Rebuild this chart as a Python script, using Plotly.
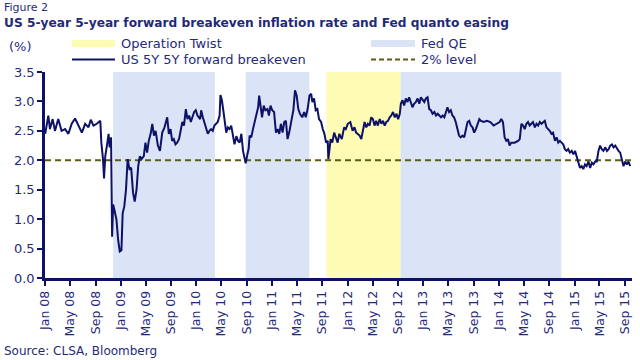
import plotly.graph_objects as go

# ---------------- data ----------------
dates_2008_09 = ["2008-01-02","2008-01-17","2008-01-25","2008-02-07","2008-02-18","2008-03-05","2008-03-21","2008-04-07","2008-04-23","2008-05-09",
                 "2008-05-25","2008-06-10","2008-06-27","2008-07-13","2008-07-29","2008-08-09","2008-08-22","2008-09-07","2008-09-24","2008-09-29",
                 "2008-10-07","2008-10-12","2008-10-18","2008-10-26","2008-11-03","2008-11-08","2008-11-15","2008-11-20","2008-11-25","2008-12-01",
                 "2008-12-11","2008-12-19","2008-12-27","2009-01-04","2009-01-10","2009-01-18","2009-01-26","2009-02-03","2009-02-12","2009-02-20",
                 "2009-03-01","2009-03-09","2009-03-18","2009-03-26","2009-04-03","2009-04-11","2009-04-22","2009-04-30","2009-05-08","2009-05-16",
                 "2009-05-25","2009-06-02","2009-06-10","2009-06-18","2009-06-29","2009-07-09","2009-07-20","2009-07-31","2009-08-08","2009-08-13",
                 "2009-08-21","2009-08-29","2009-09-06","2009-09-14","2009-09-22","2009-09-30","2009-10-09","2009-10-17","2009-10-25","2009-11-02",
                 "2009-11-11","2009-11-19","2009-11-27","2009-12-05","2009-12-13","2009-12-21","2009-12-29","2010-01-06","2010-01-19"]
be_2008_09 = [2.45,2.76,2.53,2.70,2.50,2.70,2.50,2.53,2.45,2.62,
              2.71,2.59,2.47,2.62,2.56,2.69,2.59,2.62,2.67,2.30,
              2.02,1.69,2.07,2.25,2.45,2.22,2.39,0.70,1.25,1.16,
              0.99,0.65,0.45,0.47,1.10,1.22,1.50,2.02,1.85,1.87,
              1.45,1.30,1.50,1.90,2.07,2.02,2.07,2.30,2.13,2.33,
              2.45,2.62,2.42,2.50,2.25,2.16,2.47,2.56,2.67,2.73,
              2.45,2.53,2.33,2.36,2.27,2.30,2.36,2.53,2.65,2.59,
              2.87,2.70,2.76,2.65,2.73,2.82,2.85,2.76,2.70]

dates_2010_11 = ["2010-01-24","2010-02-01","2010-02-09","2010-02-17","2010-02-25","2010-03-05","2010-03-13","2010-03-21","2010-03-29","2010-04-14",
                 "2010-04-23","2010-04-27","2010-05-04","2010-05-12","2010-05-20","2010-05-25","2010-06-02","2010-06-10","2010-06-18","2010-06-26",
                 "2010-07-04","2010-07-13","2010-07-21","2010-07-29","2010-08-06","2010-08-14","2010-08-22","2010-08-27","2010-09-04","2010-09-10",
                 "2010-09-15","2010-09-23","2010-10-01","2010-10-10","2010-10-18","2010-10-26","2010-10-31","2010-11-06","2010-11-14","2010-11-22",
                 "2010-11-30","2010-12-10","2010-12-17","2010-12-25","2011-01-02","2011-01-11","2011-01-20","2011-01-28","2011-02-05","2011-02-13",
                 "2011-02-21","2011-03-01","2011-03-09","2011-03-17","2011-03-25","2011-04-06","2011-04-14","2011-04-22","2011-04-30","2011-05-08",
                 "2011-05-16","2011-05-27","2011-06-05","2011-06-13","2011-06-22","2011-07-01","2011-07-09","2011-07-15","2011-07-23","2011-07-31",
                 "2011-08-08","2011-08-16","2011-08-26","2011-09-03","2011-09-11","2011-09-19","2011-09-27","2011-09-30","2011-10-05","2011-10-11",
                 "2011-10-19","2011-10-28","2011-11-05","2011-11-14","2011-11-22","2011-12-04","2011-12-15","2011-12-23","2012-01-02","2012-01-14",
                 "2012-01-25","2012-02-03"]
be_2010_11 = [2.85,2.73,2.62,2.53,2.45,2.50,2.53,2.50,2.59,2.65,
              2.76,3.11,3.02,2.82,2.65,2.47,2.56,2.53,2.59,2.39,
              2.27,2.41,2.33,2.30,2.45,2.16,2.02,1.95,2.10,2.19,
              2.42,2.39,2.53,2.67,2.82,2.90,3.10,2.96,2.73,2.93,
              2.85,2.87,2.76,2.93,2.85,2.82,2.47,2.53,2.45,2.62,
              2.47,2.65,2.67,2.36,2.47,2.70,2.85,3.19,3.10,2.87,
              2.79,2.73,2.82,2.73,2.87,3.10,3.13,2.99,3.05,2.85,
              2.87,2.70,2.65,2.53,2.45,2.30,2.33,2.02,2.16,2.36,
              2.30,2.47,2.39,2.30,2.45,2.36,2.56,2.53,2.62,2.65,
              2.50,2.56]

dates_2012_13 = ["2012-02-11","2012-02-19","2012-02-28","2012-03-07","2012-03-15","2012-03-23","2012-03-31","2012-04-08","2012-04-16","2012-04-24",
                 "2012-05-02","2012-05-10","2012-05-18","2012-05-26","2012-06-04","2012-06-12","2012-06-20","2012-06-28","2012-07-06","2012-07-14",
                 "2012-07-22","2012-07-30","2012-08-07","2012-08-16","2012-08-24","2012-09-01","2012-09-09","2012-09-14","2012-09-22","2012-09-30",
                 "2012-10-08","2012-10-16","2012-10-24","2012-11-01","2012-11-09","2012-11-17","2012-11-26","2012-12-04","2012-12-12","2012-12-20",
                 "2012-12-28","2013-01-05","2013-01-13","2013-01-21","2013-01-29","2013-02-06","2013-02-14","2013-02-23","2013-03-03","2013-03-11",
                 "2013-03-19","2013-03-27","2013-04-04","2013-04-12","2013-04-20","2013-04-27","2013-05-05","2013-05-13","2013-05-21","2013-05-29",
                 "2013-06-06","2013-06-14","2013-06-22","2013-06-30","2013-07-09","2013-07-17","2013-07-25","2013-08-02","2013-08-10","2013-08-18",
                 "2013-08-26","2013-09-03","2013-09-11","2013-09-19","2013-09-28","2013-10-06","2013-10-19","2013-11-04","2013-11-20","2013-12-06",
                 "2013-12-22","2014-01-04"]
be_2012_13 = [2.47,2.45,2.42,2.36,2.50,2.65,2.56,2.62,2.59,2.73,
              2.70,2.59,2.67,2.59,2.70,2.62,2.67,2.59,2.65,2.67,
              2.73,2.76,2.82,2.73,2.79,2.70,2.79,2.96,3.02,2.93,
              3.05,2.99,3.07,2.96,2.90,2.96,2.99,3.05,2.96,3.07,
              3.02,2.99,3.05,3.07,2.87,2.85,2.79,2.82,2.76,2.79,
              2.76,2.73,2.76,2.73,2.82,2.90,2.82,2.85,2.76,2.73,
              2.65,2.53,2.42,2.39,2.42,2.39,2.53,2.65,2.67,2.59,
              2.56,2.47,2.53,2.62,2.70,2.67,2.65,2.67,2.65,2.59,
              2.62,2.65]

dates_2014_15 = ["2014-01-12","2014-01-20","2014-01-28","2014-02-05","2014-02-13","2014-02-21","2014-03-01","2014-03-17","2014-04-03","2014-04-11",
                 "2014-04-19","2014-04-27","2014-05-05","2014-05-13","2014-05-21","2014-05-29","2014-06-06","2014-06-14","2014-06-23","2014-07-01",
                 "2014-07-09","2014-07-17","2014-07-25","2014-08-02","2014-08-10","2014-08-18","2014-08-26","2014-09-03","2014-09-11","2014-09-19",
                 "2014-09-28","2014-10-06","2014-10-14","2014-10-22","2014-10-30","2014-11-07","2014-11-15","2014-11-23","2014-12-01","2014-12-09",
                 "2014-12-18","2014-12-26","2015-01-03","2015-01-11","2015-01-19","2015-01-27","2015-02-04","2015-02-12","2015-02-20","2015-02-28",
                 "2015-03-09","2015-03-17","2015-03-25","2015-04-02","2015-04-10","2015-04-18","2015-04-26","2015-05-04","2015-05-12","2015-05-20",
                 "2015-05-29","2015-06-06","2015-06-14","2015-06-22","2015-06-30","2015-07-08","2015-07-16","2015-07-24","2015-08-01","2015-08-09",
                 "2015-08-17","2015-08-25","2015-09-02","2015-09-10","2015-09-18","2015-09-26"]
be_2014_15 = [2.70,2.65,2.39,2.33,2.36,2.25,2.30,2.30,2.33,2.36,
              2.62,2.59,2.53,2.62,2.65,2.59,2.62,2.65,2.56,2.62,
              2.59,2.65,2.62,2.65,2.67,2.56,2.53,2.50,2.45,2.47,
              2.33,2.39,2.30,2.33,2.30,2.27,2.19,2.16,2.19,2.13,
              2.16,2.10,2.16,2.05,1.96,1.87,1.90,1.85,1.93,1.90,
              1.98,1.87,1.96,1.93,1.98,1.98,2.16,2.25,2.19,2.16,
              2.22,2.16,2.19,2.25,2.27,2.22,2.25,2.19,2.16,2.13,
              2.02,1.90,1.98,1.93,1.98,1.90]

event_names = ["Fed QE", "Fed QE", "Operation Twist", "Fed QE"]
event_start = ["2008-11-25", "2010-08-27", "2011-09-21", "2012-09-13"]
event_end = ["2010-03-31", "2011-06-30", "2012-09-13", "2014-10-29"]

level_value = 2.0
x_start = "2008-01-01"
x_end = "2015-10-05"
y_min, y_max, y_step = 0.0, 3.5, 0.5

dates = dates_2008_09 + dates_2010_11 + dates_2012_13 + dates_2014_15
breakeven = be_2008_09 + be_2010_11 + be_2012_13 + be_2014_15

# ---------------- style ----------------
W, H = 640, 360
L, R, T, B = 45, 8, 72, 82
FONT = "DejaVu Sans"
TXT = "#1f2a7a"
NAVY = "#0d1266"
OLIVE = "#5e5e12"
QE_COL = "#dbe4f6"
OT_COL = "#fdfbb4"
event_colors = {"Fed QE": QE_COL, "Operation Twist": OT_COL}


def px(X):
    return (X - L) / (W - L - R)


def py(Y):
    return (H - B - Y) / (H - T - B)


fig = go.Figure()

for name, s, e in zip(event_names, event_start, event_end):
    fig.add_shape(type="rect", xref="x", yref="y", x0=s, x1=e, y0=y_min, y1=y_max,
                  fillcolor=event_colors[name], line=dict(width=0), layer="below")

fig.add_trace(go.Scatter(x=[x_start, x_end], y=[level_value, level_value], mode="lines",
                         line=dict(color=OLIVE, width=2, dash="6px,4px"), hoverinfo="skip",
                         name="2% level"))
fig.add_trace(go.Scatter(x=dates, y=breakeven, mode="lines",
                         line=dict(color=NAVY, width=2), name="US 5Y 5Y forward breakeven"))

# manual legend
fig.add_shape(type="rect", xref="paper", yref="paper", x0=px(72), x1=px(115), y0=py(47), y1=py(40),
              fillcolor=OT_COL, line=dict(width=0))
fig.add_shape(type="rect", xref="paper", yref="paper", x0=px(371), x1=px(415), y0=py(47), y1=py(40),
              fillcolor=QE_COL, line=dict(width=0))
fig.add_shape(type="line", xref="paper", yref="paper", x0=px(72), x1=px(115), y0=py(59.5), y1=py(59.5),
              line=dict(color=NAVY, width=2))
fig.add_shape(type="line", xref="paper", yref="paper", x0=px(371), x1=px(415), y0=py(59.5), y1=py(59.5),
              line=dict(color=OLIVE, width=2, dash="5px,3px"))

texts = [
    ("Figure 2", 2, 8, 11, False),
    ("US 5-year 5-year forward breakeven inflation rate and Fed quanto easing", 2, 23, 12.2, True),
    ("(%)", 7, 46, 13, False),
    ("Operation Twist", 119, 43, 13, False),
    ("Fed QE", 419, 43, 13, False),
    ("US 5Y 5Y forward breakeven", 119, 59.5, 13, False),
    ("2% level", 419, 59.5, 13, False),
    ("Source: CLSA, Bloomberg", 2, 351, 12, False),
]
for t, X, Y, sz, bold in texts:
    fig.add_annotation(text=("<b>%s</b>" % t) if bold else t, xref="paper", yref="paper",
                       x=px(X), y=py(Y), xanchor="left", yanchor="middle", showarrow=False,
                       font=dict(family=FONT, size=sz, color=TXT))

fig.update_layout(
    width=W, height=H, margin=dict(l=L, r=R, t=T, b=B, autoexpand=False),
    paper_bgcolor="white", plot_bgcolor="white", showlegend=False,
    font=dict(family=FONT, color=TXT),
    xaxis=dict(type="date", range=[x_start, x_end], tick0="2008-01-01", dtick="M4",
               tickformat="%b %y", tickangle=-90, ticks="outside", ticklen=5, tickwidth=1.5,
               tickcolor=NAVY, showline=True, linecolor=NAVY, linewidth=2.5, showgrid=False,
               zeroline=False, automargin=False,
               tickfont=dict(family=FONT, size=12.5, color=TXT)),
    yaxis=dict(range=[y_min, y_max], dtick=y_step, tick0=0, tickformat=".1f", ticks="outside",
               ticklen=5, tickwidth=1.5, tickcolor=NAVY, showline=True, linecolor=NAVY,
               linewidth=2.5, showgrid=False, zeroline=False, automargin=False,
               tickfont=dict(family=FONT, size=13, color=TXT)),
)

fig.write_html("out.html", config={"displayModeBar": False},
               post_script="document.body.style.margin='0';document.body.style.overflow='hidden';")
